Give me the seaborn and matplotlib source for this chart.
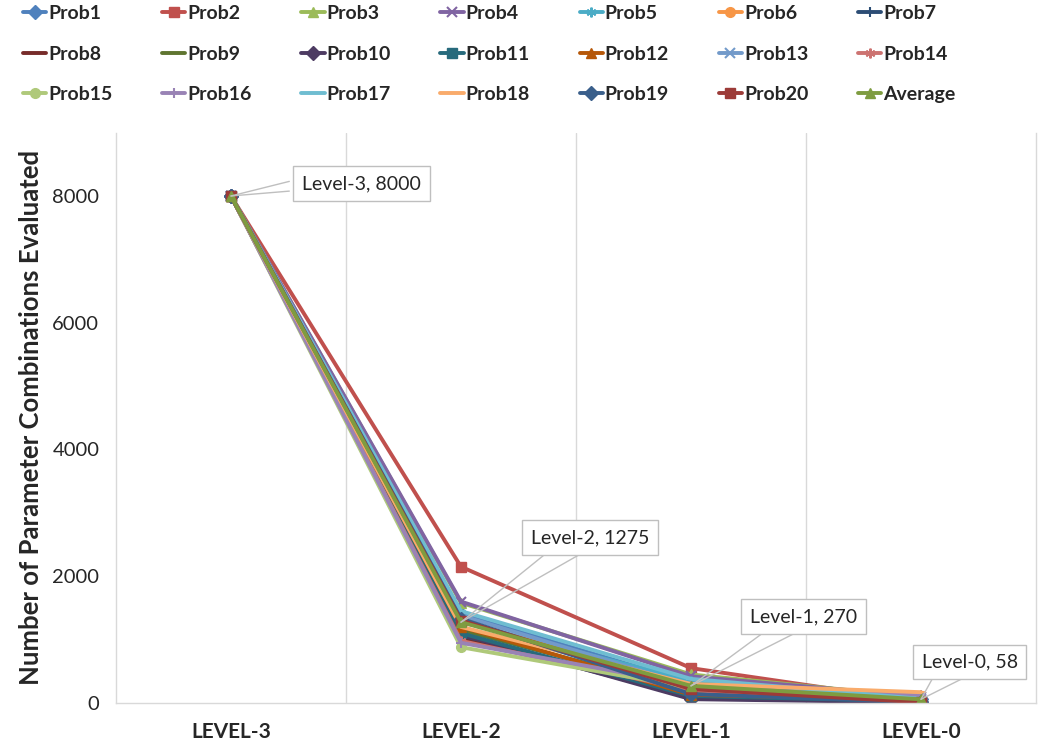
import matplotlib
matplotlib.use("Agg")
import matplotlib.pyplot as plt
import seaborn as sns
import pandas as pd

levels = ["LEVEL-3", "LEVEL-2", "LEVEL-1", "LEVEL-0"]
level_names = ["Level-3", "Level-2", "Level-1", "Level-0"]

prob1 = [8000, 1400, 320, 60]
prob2 = [8000, 2150, 550, 20]
prob3 = [8000, 1580, 450, 90]
prob4 = [8000, 1600, 420, 100]
prob5 = [8000, 1280, 350, 80]
prob6 = [8000, 1300, 250, 40]
prob7 = [8000, 1050, 90, 20]
prob8 = [8000, 1000, 160, 30]
prob9 = [8000, 1150, 190, 50]
prob10 = [8000, 1080, 60, 10]
prob11 = [8000, 1100, 110, 25]
prob12 = [8000, 1200, 130, 45]
prob13 = [8000, 1380, 270, 70]
prob14 = [8000, 980, 200, 35]
prob15 = [8000, 880, 240, 55]
prob16 = [8000, 950, 280, 120]
prob17 = [8000, 1450, 380, 65]
prob18 = [8000, 1200, 300, 170]
prob19 = [8000, 1330, 140, 15]
prob20 = [8000, 1300, 220, 10]
average = [8000, 1275, 270, 58]

series_names = [f"Prob{i}" for i in range(1, 21)] + ["Average"]
series_values = [prob1, prob2, prob3, prob4, prob5, prob6, prob7, prob8, prob9,
                 prob10, prob11, prob12, prob13, prob14, prob15, prob16, prob17,
                 prob18, prob19, prob20, average]

colors = ["#4F81BD", "#C0504D", "#9BBB59", "#8064A2", "#4BACC6", "#F79646",
          "#2C4D75", "#772C2A", "#5F7530", "#4D3B62", "#276A7C", "#B65708",
          "#729ACA", "#CD7371", "#AFC97A", "#9983B5", "#6FBDD1", "#F9AB6B",
          "#3A5F8B", "#9C3B38", "#7E9C40"]
asterisk = (6, 2, 0)
markers = ["D", "s", "^", "x", asterisk, "o", "+", "_", "_", "D", "s", "^",
           "x", asterisk, "o", "+", "_", "_", "D", "s", "^"]

sns.set_theme(style="white")
plt.rcParams["font.family"] = ["Lato", "DejaVu Sans"]

fig = plt.figure(figsize=(10.41, 7.5), dpi=100)
ax = fig.add_axes([0.1114, 0.0627, 0.8838, 0.7605])

for name, vals, col, mk in zip(series_names, series_values, colors, markers):
    df = pd.DataFrame({"level": levels, "count": vals})
    filled = mk in ("D", "s", "^", "o")
    sns.lineplot(data=df, x="level", y="count", ax=ax, color=col, lw=2.8,
                 marker=mk, markersize=7,
                 markeredgewidth=1.0 if filled else 1.5,
                 markeredgecolor=col, markerfacecolor=col,
                 label=name, sort=False, legend=False)

ax.set_xlim(-0.5, 3.5)
ax.set_ylim(0, 9000)
ax.set_yticks([0, 2000, 4000, 6000, 8000])
ax.set_xticks(range(len(levels)))
ax.set_xticklabels(levels, fontweight="bold", fontsize=15)
ax.tick_params(axis="x", length=0, pad=14)
ax.tick_params(axis="y", length=0, pad=12, labelsize=14.5)
ax.set_xlabel("")
ax.set_ylabel("Number of Parameter Combinations Evaluated", fontsize=18.5,
              fontweight="bold", labelpad=7)

ax.set_xticks([0.5, 1.5, 2.5], minor=True)
ax.tick_params(axis="x", which="minor", length=0)
ax.grid(False)
ax.grid(True, axis="x", which="minor", color="#D9D9D9", lw=1.0)
ax.set_axisbelow(True)
for side in ["left", "right", "bottom"]:
    ax.spines[side].set_color("#D9D9D9")
    ax.spines[side].set_linewidth(1.0)
ax.spines["top"].set_visible(False)

# callouts on the average series: text box plus two leader lines
box_offsets = [(94, 9), (93, 61), (81, 50), (35, 27)]
leader_starts = [
    [(-52, 1.5), (-52, -5.5)],
    [(-33, -12.5), (-8, -12.5)],
    [(-30, -12.5), (-7, -12.5)],
    [(-27, -12.5), (-6, -12.5)],
]
for i, (lvl, off, starts) in enumerate(zip(level_names, box_offsets, leader_starts)):
    for sx, sy in starts:
        ax.annotate("", xy=(i, average[i]), xytext=(off[0] + sx, off[1] + sy),
                    textcoords="offset points",
                    arrowprops=dict(arrowstyle="-", color="#BFBFBF", lw=1,
                                    shrinkA=0, shrinkB=0),
                    zorder=29)
    ax.annotate(f"{lvl}, {average[i]}", xy=(i, average[i]), xytext=off,
                textcoords="offset points", ha="center", va="center",
                fontsize=14,
                bbox=dict(boxstyle="square,pad=0.45", fc="white", ec="#BFBFBF", lw=1),
                zorder=30)

# legend laid out row by row, seven entries per row
handles, labels = ax.get_legend_handles_labels()
ncol, nrow = 7, 3
order = [r * ncol + c for c in range(ncol) for r in range(nrow)]
fig.legend([handles[k] for k in order], [labels[k] for k in order],
           ncol=ncol, loc="upper left", bbox_to_anchor=(0.022, 0.993),
           frameon=False, handlelength=1.2, handletextpad=0.1,
           columnspacing=2.55, labelspacing=1.2, borderpad=0, borderaxespad=0,
           prop={"weight": "bold", "size": 14})

fig.savefig("out.png", dpi=100, facecolor="white")
